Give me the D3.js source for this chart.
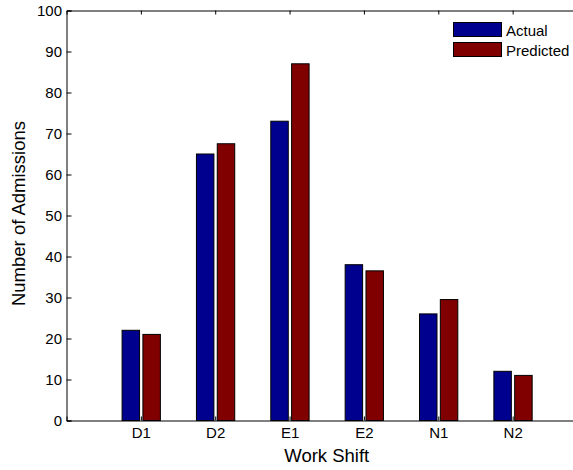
<!DOCTYPE html>
<html><head><meta charset="utf-8">
<script src="https://cdn.jsdelivr.net/npm/d3@7"></script>
<style>body{margin:0;background:#fff}svg{display:block;font-family:"Liberation Sans",Arial,Helvetica,sans-serif}</style>
</head><body>
<script>
const categories = ["D1","D2","E1","E2","N1","N2"];
const actual = [22, 65, 73, 38, 26, 12];
const predicted = [21, 67.5, 87, 36.5, 29.5, 11];
const seriesNames = ["Actual","Predicted"];
const seriesColors = ["#00008f","#800000"];
const yTicks = [0,10,20,30,40,50,60,70,80,90,100];

const W = 573, H = 470;
const mLeft = 66.5, mTop = 10.5, mBottom = 420.5, mRight = 587;
const svg = d3.select("body").append("svg").attr("width", W).attr("height", H);

const x = d3.scaleLinear().domain([0, categories.length + 1]).range([mLeft, mRight]);
const y = d3.scaleLinear().domain([0, 100]).range([mBottom, mTop]);

const series = [actual, predicted];
const offsets = [-0.135, 0.145];
const bw = 0.235;

series.forEach((vals, si) => {
  svg.append("g").selectAll("rect").data(vals).join("rect")
    .attr("x", (d, i) => x(i + 1 + offsets[si] - bw / 2))
    .attr("width", x(bw) - x(0))
    .attr("y", d => y(d))
    .attr("height", d => y(0) - y(d))
    .attr("fill", seriesColors[si])
    .attr("stroke", "#000")
    .attr("stroke-width", 1);
});

// axes
const yAxis = d3.axisLeft(y).tickValues(yTicks).tickSize(-5).tickPadding(4.5);
const gy = svg.append("g").attr("transform", `translate(${mLeft},0)`).call(yAxis);
const xAxis = d3.axisBottom(x).tickValues(categories.map((c, i) => i + 1))
  .tickFormat((d) => categories[d - 1]).tickSize(-4);
const gx = svg.append("g").attr("transform", `translate(0,${mBottom})`).call(xAxis);
const xTop = d3.axisTop(x).tickValues(categories.map((c, i) => i + 1)).tickFormat("").tickSize(-4);
const gt = svg.append("g").attr("transform", `translate(0,${mTop})`).call(xTop);
[gy, gx, gt].forEach(g => {
  g.select(".domain").attr("stroke", "#000").attr("stroke-width", 1);
  g.selectAll(".tick line").attr("stroke", "#000");
  g.selectAll("text").attr("font-size", 15).attr("fill", "#000")
    .attr("font-family", '"Liberation Sans",Arial,sans-serif');
});
gx.selectAll("text").attr("y", 17.5).attr("dy", "0");

svg.append("text").attr("x", (mLeft + mRight) / 2).attr("y", 462)
  .attr("text-anchor", "middle").attr("font-size", 18.5).text("Work Shift");
svg.append("text").attr("transform", `translate(25,${(mTop + mBottom) / 2 - 2}) rotate(-90)`)
  .attr("text-anchor", "middle").attr("font-size", 18.5).text("Number of Admissions");

// legend
const lg = svg.append("g");
seriesNames.forEach((n, i) => {
  lg.append("rect").attr("x", 453.5).attr("y", 22.5 + i * 20).attr("width", 48).attr("height", 14)
    .attr("fill", seriesColors[i]).attr("stroke", "#000").attr("stroke-width", 1);
  lg.append("text").attr("x", 506).attr("y", 36 + i * 20)
    .attr("font-size", 15).text(n);
});
</script>
</body></html>
